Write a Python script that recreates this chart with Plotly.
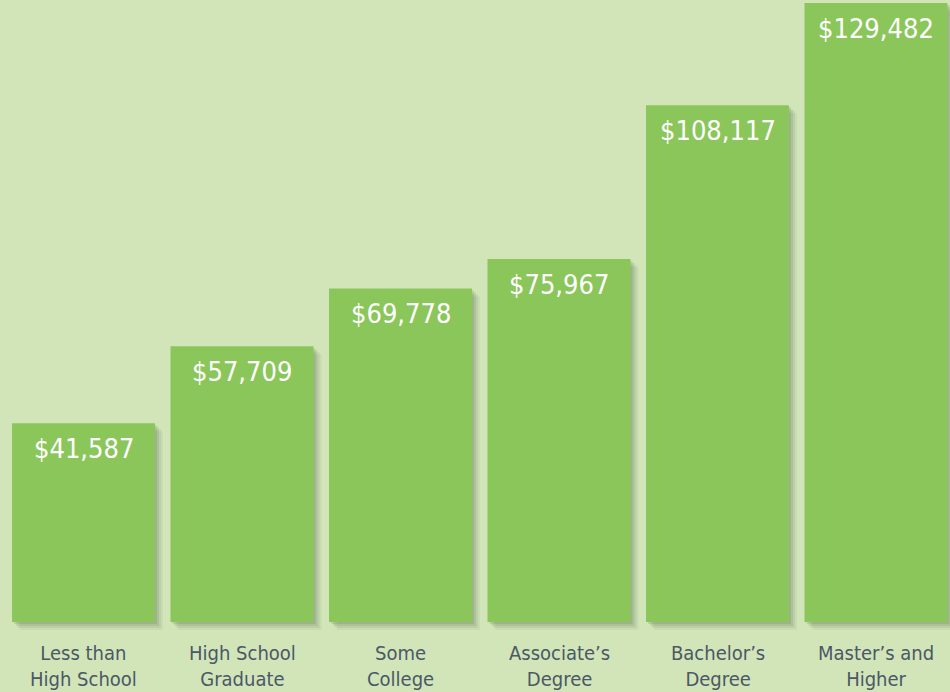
import plotly.graph_objects as go

categories = ["Less than<br>High School", "High School<br>Graduate", "Some<br>College",
              "Associate’s<br>Degree", "Bachelor’s<br>Degree", "Master’s and<br>Higher"]
values = [41587, 57709, 69778, 75967, 108117, 129482]
value_labels = ["$41,587", "$57,709", "$69,778", "$75,967", "$108,117", "$129,482"]

W, H = 950, 692
BG = "#d1e5b9"
BAR = "#8bc65b"
LABEL = "#4b5866"
FONT = "DejaVu Sans Condensed, Roboto, sans-serif"

pitch = 158.5          # px per category
center0 = 83.5         # px centre of first bar
bar_w = 0.902
scale = 0.00478        # px per dollar
zero_px = 622
plot_bottom = 640

x = list(range(len(values)))
xmin = -center0 / pitch
xmax = (W - center0) / pitch
ymin = -(plot_bottom - zero_px) / scale
ymax = zero_px / scale

fig = go.Figure()

# soft drop shadow (several translucent layers)
for d, a in [(8, 0.06), (6, 0.09), (4, 0.12), (2, 0.14)]:
    fig.add_trace(go.Bar(
        x=x, y=values, base=-d / scale, width=bar_w,
        offset=-bar_w / 2 + d / pitch,
        marker=dict(color=f"rgba(70,90,60,{a})", line=dict(width=0)),
        hoverinfo="skip", showlegend=False))

fig.add_trace(go.Bar(
    x=x, y=values, width=bar_w, offset=-bar_w / 2,
    marker=dict(color=BAR, line=dict(width=0)),
    showlegend=False))

for i, (v, t) in enumerate(zip(values, value_labels)):
    fig.add_annotation(x=i, y=v, text=t, showarrow=False, yanchor="top", yshift=-8,
                       font=dict(family=FONT, size=27, color="white"))
for i, c in enumerate(categories):
    fig.add_annotation(x=i, y=0, text=c, showarrow=False, yanchor="top", yshift=-17,
                       font=dict(family=FONT, size=20, color=LABEL))

fig.update_layout(
    width=W, height=H, margin=dict(l=0, r=0, t=0, b=H - plot_bottom),
    paper_bgcolor=BG, plot_bgcolor=BG, barmode="overlay",
    xaxis=dict(range=[xmin, xmax], visible=False),
    yaxis=dict(range=[ymin, ymax], visible=False),
)
fig.write_html("out.html", config={"displayModeBar": False},
               post_script="document.body.style.margin='0';document.body.style.background='" + BG + "';")
